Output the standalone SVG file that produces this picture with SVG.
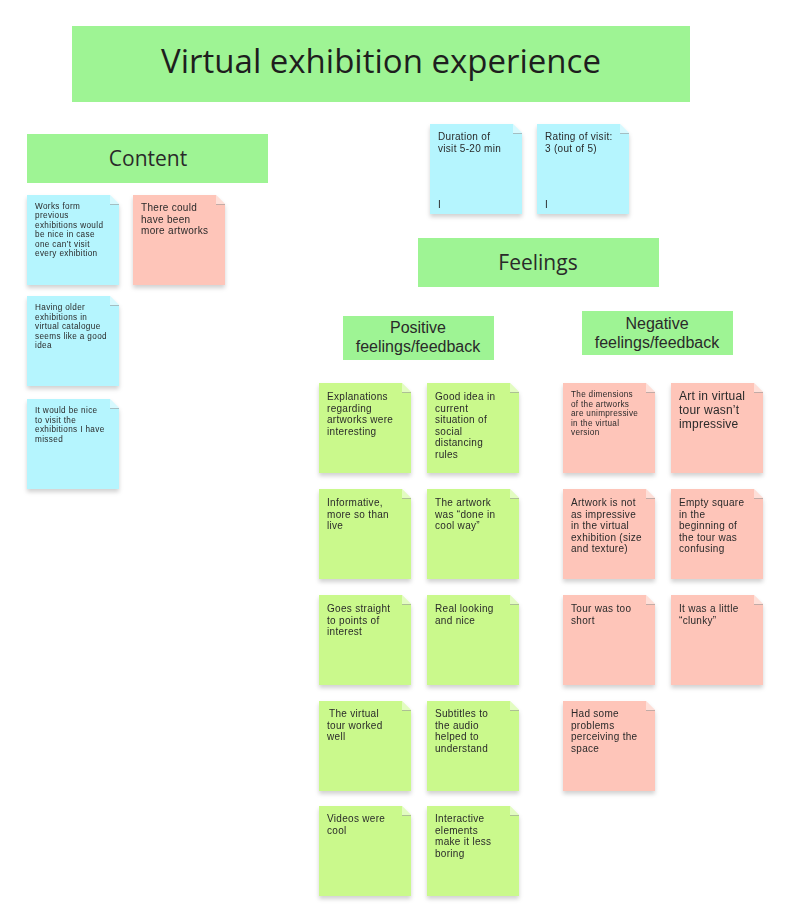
<svg xmlns="http://www.w3.org/2000/svg" width="811" height="924" viewBox="0 0 811 924">
<defs>
<filter id="sh" x="-20%" y="-20%" width="140%" height="150%">
<feDropShadow dx="0" dy="3" stdDeviation="2.2" flood-color="#000" flood-opacity="0.18"/>
</filter>
<symbol id="fold" overflow="visible"><polygon points="-9,0 0,9 -9,9" fill="#ffffff" fill-opacity="0.45"/><line x1="-9" y1="9.5" x2="0" y2="9.5" stroke="#9a9a9a" stroke-width="1" stroke-opacity="0.6"/></symbol>
</defs>
<style>
.hdr{fill:#9ef494}
.blue{fill:#b5f5fe}
.pink{fill:#fec5b9}
.green{fill:#caf98c}
text{font-family:"Liberation Sans",Arial,sans-serif;fill:#2a2a2a}
.t{font-size:10px;letter-spacing:0.3px}
.s{font-size:8.2px;letter-spacing:0.35px}
.xs{font-size:8.2px;letter-spacing:0.3px}
.l{font-size:12px;letter-spacing:0.2px}
.h1{font-family:"Open Sans","Liberation Sans",sans-serif;font-size:33px;text-anchor:middle;fill:#1e1e1e}
.h2{font-family:"Open Sans","Liberation Sans",sans-serif;font-size:21px;text-anchor:middle}
.h3{font-size:16px;text-anchor:middle}
</style>
<rect width="811" height="924" fill="#ffffff"/>

<g id="title"><rect class="hdr" x="72" y="26" width="618" height="76"/><text class="h1" x="381" y="73">Virtual exhibition experience</text></g>
<g id="content"><rect class="hdr" x="27" y="134" width="241" height="49"/><text class="h2" x="148" y="166">Content</text></g>
<g id="feelings"><rect class="hdr" x="418" y="238" width="241" height="49"/><text class="h2" x="538" y="270">Feelings</text></g>
<g id="positive"><rect class="hdr" x="343" y="316" width="151" height="44"/><text class="h3" x="418" y="333">Positive</text><text class="h3" x="418" y="352">feelings/feedback</text></g>
<g id="negative"><rect class="hdr" x="582" y="311" width="151" height="44"/><text class="h3" x="657" y="329">Negative</text><text class="h3" x="657" y="348">feelings/feedback</text></g>

<g id="c1" filter="url(#sh)"><polygon class="blue" points="27,195 110,195 119,204 119,285 27,285"/><use href="#fold" x="119" y="195"/>
<text class="s"><tspan x="35" y="208.5">Works form</tspan><tspan x="35" y="218">previous</tspan><tspan x="35" y="227.5">exhibitions would</tspan><tspan x="35" y="237">be nice in case</tspan><tspan x="35" y="246.5">one can’t visit</tspan><tspan x="35" y="256">every exhibition</tspan></text></g>
<g id="c2" filter="url(#sh)"><polygon class="pink" points="133,195 216,195 225,204 225,285 133,285"/><use href="#fold" x="225" y="195"/>
<text class="t"><tspan x="141" y="211">There could</tspan><tspan x="141" y="222.6">have been</tspan><tspan x="141" y="234.2">more artworks</tspan></text></g>
<g id="c3" filter="url(#sh)"><polygon class="blue" points="27,296 110,296 119,305 119,386 27,386"/><use href="#fold" x="119" y="296"/>
<text class="s"><tspan x="35" y="310">Having older</tspan><tspan x="35" y="319.5">exhibitions in</tspan><tspan x="35" y="329">virtual catalogue</tspan><tspan x="35" y="338.5">seems like a good</tspan><tspan x="35" y="348">idea</tspan></text></g>
<g id="c4" filter="url(#sh)"><polygon class="blue" points="27,399 110,399 119,408 119,489 27,489"/><use href="#fold" x="119" y="399"/>
<text class="s"><tspan x="35" y="413">It would be nice</tspan><tspan x="35" y="422.5">to visit the</tspan><tspan x="35" y="432">exhibitions I have</tspan><tspan x="35" y="441.5">missed</tspan></text></g>

<g id="duration" filter="url(#sh)"><polygon class="blue" points="430,124 513,124 522,133 522,214 430,214"/><use href="#fold" x="522" y="124"/>
<text class="t"><tspan x="438" y="140">Duration of</tspan><tspan x="438" y="152">visit 5-20 min</tspan><tspan x="438" y="208">I</tspan></text></g>
<g id="rating" filter="url(#sh)"><polygon class="blue" points="537,124 620,124 629,133 629,214 537,214"/><use href="#fold" x="629" y="124"/>
<text class="t"><tspan x="545" y="140">Rating of visit:</tspan><tspan x="545" y="152">3 (out of 5)</tspan><tspan x="545" y="208">I</tspan></text></g>

<g id="p1" filter="url(#sh)"><polygon class="green" points="319,383 402,383 411,392 411,473 319,473"/><use href="#fold" x="411" y="383"/>
<text class="t"><tspan x="327" y="400">Explanations</tspan><tspan x="327" y="411.6">regarding</tspan><tspan x="327" y="423.2">artworks were</tspan><tspan x="327" y="434.8">interesting</tspan></text></g>
<g id="p2" filter="url(#sh)"><polygon class="green" points="427,383 510,383 519,392 519,473 427,473"/><use href="#fold" x="519" y="383"/>
<text class="t"><tspan x="435" y="400">Good idea in</tspan><tspan x="435" y="411.6">current</tspan><tspan x="435" y="423.2">situation of</tspan><tspan x="435" y="434.8">social</tspan><tspan x="435" y="446.4">distancing</tspan><tspan x="435" y="458">rules</tspan></text></g>
<g id="p3" filter="url(#sh)"><polygon class="green" points="319,489 402,489 411,498 411,579 319,579"/><use href="#fold" x="411" y="489"/>
<text class="t"><tspan x="327" y="506">Informative,</tspan><tspan x="327" y="517.6">more so than</tspan><tspan x="327" y="529.2">live</tspan></text></g>
<g id="p4" filter="url(#sh)"><polygon class="green" points="427,489 510,489 519,498 519,579 427,579"/><use href="#fold" x="519" y="489"/>
<text class="t"><tspan x="435" y="506">The artwork</tspan><tspan x="435" y="517.6">was “done in</tspan><tspan x="435" y="529.2">cool way”</tspan></text></g>
<g id="p5" filter="url(#sh)"><polygon class="green" points="319,595 402,595 411,604 411,685 319,685"/><use href="#fold" x="411" y="595"/>
<text class="t"><tspan x="327" y="612">Goes straight</tspan><tspan x="327" y="623.6">to points of</tspan><tspan x="327" y="635.2">interest</tspan></text></g>
<g id="p6" filter="url(#sh)"><polygon class="green" points="427,595 510,595 519,604 519,685 427,685"/><use href="#fold" x="519" y="595"/>
<text class="t"><tspan x="435" y="612">Real looking</tspan><tspan x="435" y="623.6">and nice</tspan></text></g>
<g id="p7" filter="url(#sh)"><polygon class="green" points="319,701 402,701 411,710 411,791 319,791"/><use href="#fold" x="411" y="701"/>
<text class="t"><tspan x="329" y="717">The virtual</tspan><tspan x="327" y="728.6">tour worked</tspan><tspan x="327" y="740.2">well</tspan></text></g>
<g id="p8" filter="url(#sh)"><polygon class="green" points="427,701 510,701 519,710 519,791 427,791"/><use href="#fold" x="519" y="701"/>
<text class="t"><tspan x="435" y="717">Subtitles to</tspan><tspan x="435" y="728.6">the audio</tspan><tspan x="435" y="740.2">helped to</tspan><tspan x="435" y="751.8">understand</tspan></text></g>
<g id="p9" filter="url(#sh)"><polygon class="green" points="319,806 402,806 411,815 411,896 319,896"/><use href="#fold" x="411" y="806"/>
<text class="t"><tspan x="327" y="822">Videos were</tspan><tspan x="327" y="833.6">cool</tspan></text></g>
<g id="p10" filter="url(#sh)"><polygon class="green" points="427,806 510,806 519,815 519,896 427,896"/><use href="#fold" x="519" y="806"/>
<text class="t"><tspan x="435" y="822">Interactive</tspan><tspan x="435" y="833.6">elements</tspan><tspan x="435" y="845.2">make it less</tspan><tspan x="435" y="856.8">boring</tspan></text></g>

<g id="n1" filter="url(#sh)"><polygon class="pink" points="563,383 646,383 655,392 655,473 563,473"/><use href="#fold" x="655" y="383"/>
<text class="xs"><tspan x="571" y="397">The dimensions</tspan><tspan x="571" y="406.5">of the artworks</tspan><tspan x="571" y="416">are unimpressive</tspan><tspan x="571" y="425.5">in the virtual</tspan><tspan x="571" y="435">version</tspan></text></g>
<g id="n2" filter="url(#sh)"><polygon class="pink" points="671,383 754,383 763,392 763,473 671,473"/><use href="#fold" x="763" y="383"/>
<text class="l"><tspan x="679" y="400">Art in virtual</tspan><tspan x="679" y="414">tour wasn’t</tspan><tspan x="679" y="428">impressive</tspan></text></g>
<g id="n3" filter="url(#sh)"><polygon class="pink" points="563,489 646,489 655,498 655,579 563,579"/><use href="#fold" x="655" y="489"/>
<text class="t"><tspan x="571" y="506">Artwork is not</tspan><tspan x="571" y="517.6">as impressive</tspan><tspan x="571" y="529.2">in the virtual</tspan><tspan x="571" y="540.8">exhibition (size</tspan><tspan x="571" y="552.4">and texture)</tspan></text></g>
<g id="n4" filter="url(#sh)"><polygon class="pink" points="671,489 754,489 763,498 763,579 671,579"/><use href="#fold" x="763" y="489"/>
<text class="t"><tspan x="679" y="506">Empty square</tspan><tspan x="679" y="517.6">in the</tspan><tspan x="679" y="529.2">beginning of</tspan><tspan x="679" y="540.8">the tour was</tspan><tspan x="679" y="552.4">confusing</tspan></text></g>
<g id="n5" filter="url(#sh)"><polygon class="pink" points="563,595 646,595 655,604 655,685 563,685"/><use href="#fold" x="655" y="595"/>
<text class="t"><tspan x="571" y="612">Tour was too</tspan><tspan x="571" y="623.6">short</tspan></text></g>
<g id="n6" filter="url(#sh)"><polygon class="pink" points="671,595 754,595 763,604 763,685 671,685"/><use href="#fold" x="763" y="595"/>
<text class="t"><tspan x="679" y="612">It was a little</tspan><tspan x="679" y="623.6">“clunky”</tspan></text></g>
<g id="n7" filter="url(#sh)"><polygon class="pink" points="563,701 646,701 655,710 655,791 563,791"/><use href="#fold" x="655" y="701"/>
<text class="t"><tspan x="571" y="717">Had some</tspan><tspan x="571" y="728.6">problems</tspan><tspan x="571" y="740.2">perceiving the</tspan><tspan x="571" y="751.8">space</tspan></text></g>

<g id="connectors"></g>
</svg>
